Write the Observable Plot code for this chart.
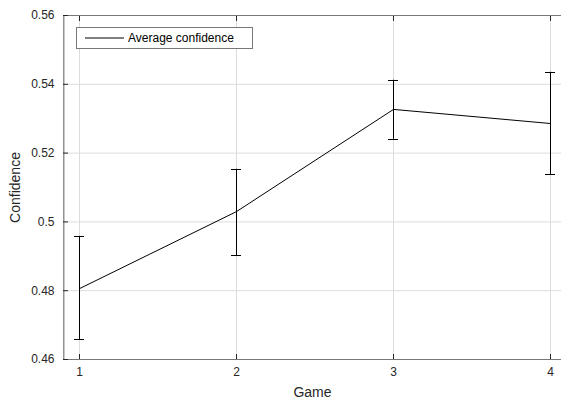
<!DOCTYPE html>
<html>
<head>
<meta charset="utf-8">
<script src="https://cdn.jsdelivr.net/npm/d3@7"></script>
<script src="https://cdn.jsdelivr.net/npm/@observablehq/plot@0.6"></script>
<style>
  html, body { margin: 0; padding: 0; background: #fff; }
  #chart { position: relative; width: 561px; height: 400px; }
</style>
</head>
<body>
<div id="chart"></div>
<script>
const games = [1, 2, 3, 4];
const meanConf = [0.4806, 0.5030, 0.5327, 0.5286];
const lowConf = [0.4657, 0.4902, 0.5240, 0.5138];
const highConf = [0.4958, 0.5153, 0.5412, 0.5435];
const xTicks = [1, 2, 3, 4];
const xTickLabels = ["1", "2", "3", "4"];
const yTicks = [0.46, 0.48, 0.50, 0.52, 0.54, 0.56];
const yTickLabels = ["0.46", "0.48", "0.5", "0.52", "0.54", "0.56"];
const legendLabel = "Average confidence";
const xLabel = "Game";
const yLabel = "Confidence";

const rows = games.map((g, i) => ({game: g, mean: meanConf[i], lo: lowConf[i], hi: highConf[i]}));

const font = "'Liberation Sans', Arial, Helvetica, sans-serif";
const axisColor = "#777";
const textColor = "#262626";

const plot = Plot.plot({
  width: 561,
  height: 400,
  marginTop: 15,
  marginBottom: 41,
  marginLeft: 63,
  marginRight: 0,
  style: {fontFamily: font, fontSize: "12px", color: textColor, background: "#fff"},
  x: {type: "linear", domain: [0.9, 4.1], range: [63.3, 565.7], label: null},
  y: {type: "linear", domain: [0.46, 0.56], label: null},
  marks: [
    Plot.gridX(xTicks, {stroke: "#dcdcdc", strokeOpacity: 1}),
    Plot.gridY(yTicks, {stroke: "#dcdcdc", strokeOpacity: 1}),
    Plot.ruleY([0.46, 0.56], {stroke: axisColor, strokeWidth: 1.2}),
    Plot.ruleX([0.9], {stroke: axisColor, strokeWidth: 1.2}),
    Plot.axisX(xTicks, {anchor: "bottom", tickSize: 0, tickPadding: 8, fontSize: 12, fill: textColor, tickFormat: (d, i) => xTickLabels[i], label: null}),
    Plot.axisX(xTicks, {anchor: "bottom", tickSize: 0, text: null, fontSize: 14, fill: textColor, label: xLabel, labelAnchor: "center", labelArrow: "none", labelOffset: 37}),
    Plot.axisX(xTicks, {anchor: "bottom", tickSize: -5, text: null, stroke: textColor, label: null}),
    Plot.axisX(xTicks, {anchor: "top", tickSize: -5, text: null, stroke: textColor, label: null}),
    Plot.axisY(yTicks, {anchor: "left", tickSize: 0, tickPadding: 9, fontSize: 12, fill: textColor, tickFormat: (d, i) => yTickLabels[i], label: null}),
    Plot.axisY(yTicks, {anchor: "left", tickSize: 0, text: null, fontSize: 14, fill: textColor, label: yLabel, labelAnchor: "center", labelArrow: "none", labelOffset: 53}),
    Plot.axisY(yTicks, {anchor: "left", tickSize: -5, text: null, stroke: textColor, label: null}),
    Plot.ruleX(rows, {x: "game", y1: "lo", y2: "hi", stroke: "#000", strokeWidth: 1}),
    Plot.line(rows, {x: "game", y: "mean", stroke: "#000", strokeWidth: 1})
  ]
});

document.getElementById("chart").appendChild(plot);

// error bar caps drawn from the plot's scales
const svg = d3.select(plot);
const xs = plot.scale("x"), ys = plot.scale("y");
const capG = svg.append("g").attr("stroke", "#000").attr("stroke-width", 1);
rows.forEach(r => {
  [r.lo, r.hi].forEach(v => {
    const cx = xs.apply(r.game), cy = Math.round(ys.apply(v)) + 0.5;
    capG.append("line").attr("x1", cx - 5).attr("x2", cx + 5).attr("y1", cy).attr("y2", cy);
  });
});

// legend box
const lg = svg.append("g");
lg.append("rect").attr("x", 76.5).attr("y", 27.5).attr("width", 176).attr("height", 21)
  .attr("fill", "#fff").attr("stroke", axisColor).attr("stroke-width", 1);
lg.append("line").attr("x1", 85).attr("x2", 124).attr("y1", 38).attr("y2", 38)
  .attr("stroke", "#000").attr("stroke-width", 1);
lg.append("text").attr("x", 128).attr("y", 38).attr("dy", "0.35em").attr("text-anchor", "start")
  .attr("font-family", font).attr("font-size", 12).attr("fill", "#000").text(legendLabel);
</script>
</body>
</html>
